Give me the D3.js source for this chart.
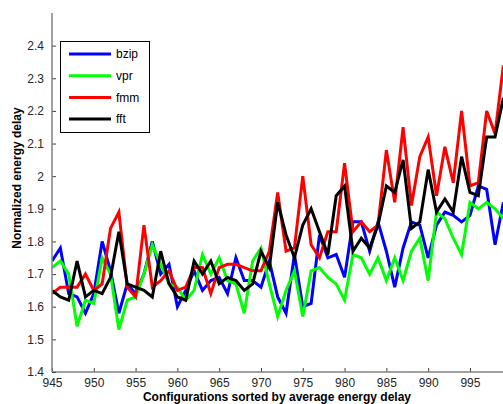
<!DOCTYPE html>
<html>
<head>
<meta charset="utf-8">
<script src="https://cdn.jsdelivr.net/npm/d3@7"></script>
<style>
  body { margin: 0; background: #fff; }
  svg { font-family: "Liberation Sans", Arial, sans-serif; }
</style>
</head>
<body>
<div id="chart"></div>
<script>
// configurations 945..999
const configs = d3.range(945, 1000);

const bzip = [1.74,1.78,1.64,1.63,1.58,1.64,1.80,1.71,1.58,1.67,1.64,1.70,1.80,
  1.70,1.73,1.60,1.65,1.71,1.65,1.68,1.69,1.64,1.75,1.68,1.68,
  1.66,1.74,1.63,1.58,1.76,1.60,1.61,1.82,1.75,1.76,1.69,
  1.86,1.86,1.77,1.86,1.77,1.66,1.78,1.86,1.85,1.75,1.85,1.89,
  1.88,1.86,1.88,1.97,1.96,1.79,1.92];
const vpr = [1.72,1.74,1.70,1.54,1.62,1.61,1.75,1.70,1.53,1.62,1.63,1.70,1.79,
  1.73,1.67,1.66,1.62,1.65,1.76,1.70,1.75,1.68,1.67,1.58,1.74,
  1.78,1.67,1.57,1.65,1.71,1.57,1.71,1.72,1.69,1.67,1.62,
  1.76,1.75,1.70,1.75,1.68,1.75,1.68,1.77,1.81,1.68,1.89,1.87,
  1.81,1.76,1.92,1.90,1.92,1.90,1.87];
const fmm = [1.64,1.66,1.66,1.66,1.70,1.65,1.67,1.84,1.89,1.66,1.63,1.85,1.66,
  1.68,1.71,1.65,1.66,1.72,1.72,1.64,1.72,1.73,1.73,1.72,1.71,
  1.71,1.77,1.95,1.77,1.78,2.00,1.79,1.75,1.83,1.83,2.04,
  1.83,1.86,1.83,1.85,2.08,1.92,2.15,1.91,2.06,2.12,1.94,2.09,
  1.98,2.20,1.97,1.98,2.20,2.13,2.34];
const fft = [1.65,1.63,1.62,1.74,1.63,1.65,1.64,1.69,1.83,1.67,1.66,1.65,1.63,
  1.77,1.67,1.63,1.62,1.74,1.70,1.74,1.67,1.69,1.68,1.65,1.67,
  1.77,1.72,1.92,1.82,1.75,1.85,1.90,1.83,1.76,1.94,1.97,
  1.77,1.81,1.78,1.85,1.97,1.95,2.05,1.84,1.86,2.02,1.89,1.93,
  1.89,2.06,1.95,1.94,2.12,2.12,2.24];

const seriesNames = ["bzip", "vpr", "fmm", "fft"];
const seriesValues = [bzip, vpr, fmm, fft];
const seriesColors = ["#0000ff", "#00ff00", "#ff0000", "#000000"];

const xTicks = d3.range(945, 1000, 5);
const yTicks = [1.4,1.5,1.6,1.7,1.8,1.9,2.0,2.1,2.2,2.3,2.4];

const W = 503, H = 404;
const padL = 52, padR = 503.4, padT = 13, padB = 372;

const x = d3.scaleLinear().domain([945, 999]).range([padL, padR]);
const y = d3.scaleLinear().domain([1.4, 2.5]).range([padB, padT]);

const svg = d3.select("#chart").append("svg")
  .attr("width", W)
  .attr("height", H);

svg.append("clipPath").attr("id", "clip")
  .append("rect")
  .attr("x", padL).attr("y", padT)
  .attr("width", W - padL).attr("height", padB - padT);

//lines
const line = d3.line()
  .x((d, i) => x(configs[i]))
  .y(d => y(d));

const plot = svg.append("g").attr("clip-path", "url(#clip)");
seriesValues.forEach((vals, k) => {
  plot.append("path")
    .datum(vals)
    .attr("d", line)
    .attr("fill", "none")
    .attr("stroke", seriesColors[k])
    .attr("stroke-width", 3)
    .attr("stroke-linejoin", "miter");
});

//axes
const xAxis = d3.axisBottom(x)
  .tickValues(xTicks)
  .tickSizeInner(-4)
  .tickSizeOuter(0)
  .tickPadding(8)
  .tickFormat(d3.format("d"));
const yAxis = d3.axisLeft(y)
  .tickValues(yTicks)
  .tickSizeInner(-4)
  .tickSizeOuter(0)
  .tickPadding(8)
  .tickFormat(d => String(+d.toFixed(1)));

const gx = svg.append("g")
  .attr("transform", "translate(0," + padB + ")")
  .call(xAxis);
gx.select(".domain").remove();
gx.append("line")
  .attr("x1", padL).attr("x2", W)
  .attr("stroke", "#808080").attr("stroke-width", 1.5);

const gy = svg.append("g")
  .attr("transform", "translate(" + padL + ",0)")
  .call(yAxis);
gy.select(".domain").remove();
gy.append("line")
  .attr("y1", padT).attr("y2", padB)
  .attr("stroke", "#808080").attr("stroke-width", 1.5);

[gx, gy].forEach(g => {
  g.selectAll(".tick line").attr("stroke", "#404040");
  g.selectAll(".tick text")
    .attr("fill", "#262626")
    .style("font-size", "12px")
    .style("font-family", "Liberation Sans, Arial, sans-serif");
});
gx.selectAll(".tick text").attr("dy", "0.55em");

//axis labels
svg.append("text")
  .text("Configurations sorted by average energy delay")
  .attr("x", 277)
  .attr("y", 401)
  .attr("text-anchor", "middle")
  .style("font-size", "12px")
  .style("font-weight", "bold");

svg.append("text")
  .text("Normalized energy delay")
  .attr("transform", "translate(21,178) rotate(-90)")
  .attr("text-anchor", "middle")
  .style("font-size", "12px")
  .style("font-weight", "bold");

//legend
const legend = svg.append("g").attr("transform", "translate(60,41)");
legend.append("rect")
  .attr("x", 0.5).attr("y", 0.5)
  .attr("width", 89).attr("height", 91)
  .attr("fill", "#fff")
  .attr("stroke", "#000")
  .attr("stroke-width", 1);
seriesNames.forEach((name, k) => {
  const ly = 13 + k * 21.7;
  legend.append("line")
    .attr("x1", 9).attr("x2", 51)
    .attr("y1", ly).attr("y2", ly)
    .attr("stroke", seriesColors[k])
    .attr("stroke-width", 3);
  legend.append("text")
    .text(name)
    .attr("x", 56)
    .attr("y", ly)
    .attr("dy", "0.35em")
    .style("font-size", "12px");
});
</script>
</body>
</html>
